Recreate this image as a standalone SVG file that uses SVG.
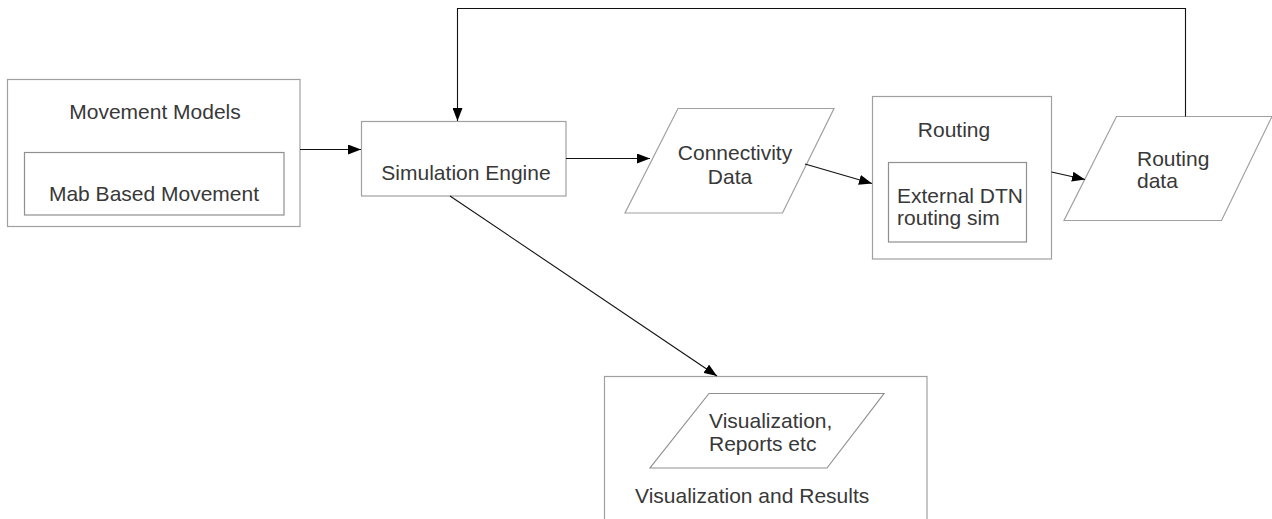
<svg xmlns="http://www.w3.org/2000/svg" width="1272" height="519" viewBox="0 0 1272 519">
<style>
.box{fill:#fff;stroke:#a0a0a0;stroke-width:1.2}
.ibox{fill:none;stroke:#909090;stroke-width:1.2}
.t{font-family:"Liberation Sans",Arial,sans-serif;font-size:21px;fill:#383838}
.c{fill:none;stroke:#111;stroke-width:1.1}
</style>
<defs>
<marker id="ah" markerWidth="14" markerHeight="10" refX="13" refY="5" orient="auto" markerUnits="userSpaceOnUse">
<path d="M0,0 L13,5 L0,10 Z" fill="#000"/>
</marker>
</defs>
<rect width="1272" height="519" fill="#fff"/>
<g id="movement-models">
<rect class="box" x="7.5" y="79.5" width="292.5" height="147"/>
<rect class="ibox" x="24.5" y="152.5" width="259.5" height="62.5"/>
<text class="t" x="155" y="119" text-anchor="middle">Movement Models</text>
<text class="t" x="154" y="201" text-anchor="middle">Mab Based Movement</text>
</g>
<g id="simulation-engine">
<rect class="box" x="361.5" y="121.5" width="204.5" height="74.5"/>
<text class="t" x="466" y="180" text-anchor="middle">Simulation Engine</text>
</g>
<g id="connectivity-data">
<polygon class="box" points="678,108.5 834,108.5 782.5,213 625,213"/>
<text class="t" x="735" y="160" text-anchor="middle">Connectivity</text>
<text class="t" x="730" y="184" text-anchor="middle">Data</text>
</g>
<g id="routing">
<rect class="box" x="872.5" y="96.5" width="179" height="162.5"/>
<rect class="ibox" x="888.5" y="162.5" width="138" height="79.5"/>
<text class="t" x="954" y="137" text-anchor="middle">Routing</text>
<text class="t" x="897" y="203">External DTN</text>
<text class="t" x="897" y="225">routing sim</text>
</g>
<g id="routing-data">
<polygon class="box" points="1116.5,116.5 1272,116.5 1221.5,220.5 1064,220.5"/>
<text class="t" x="1137" y="166">Routing</text>
<text class="t" x="1137" y="188">data</text>
</g>
<g id="visualization-results">
<rect class="box" x="604.5" y="376.5" width="322.5" height="160"/>
<polygon class="ibox" points="709,393.5 884,393.5 827,468 650,468"/>
<text class="t" x="709" y="428">Visualization,</text>
<text class="t" x="709" y="451">Reports etc</text>
<text class="t" x="635" y="503">Visualization and Results</text>
</g>
<g id="connectors">
<line class="c" x1="300" y1="149.5" x2="361" y2="149.5" marker-end="url(#ah)"/>
<line class="c" x1="566" y1="158.5" x2="650" y2="158.5" marker-end="url(#ah)"/>
<line class="c" x1="805" y1="164" x2="872" y2="183.5" marker-end="url(#ah)"/>
<line class="c" x1="1051.5" y1="172" x2="1085" y2="179.5" marker-end="url(#ah)"/>
<polyline class="c" points="1185.5,116.5 1185.5,8.5 457.5,8.5 457.5,121" marker-end="url(#ah)"/>
<line class="c" x1="450" y1="196" x2="717" y2="376" marker-end="url(#ah)"/>
</g>
</svg>
